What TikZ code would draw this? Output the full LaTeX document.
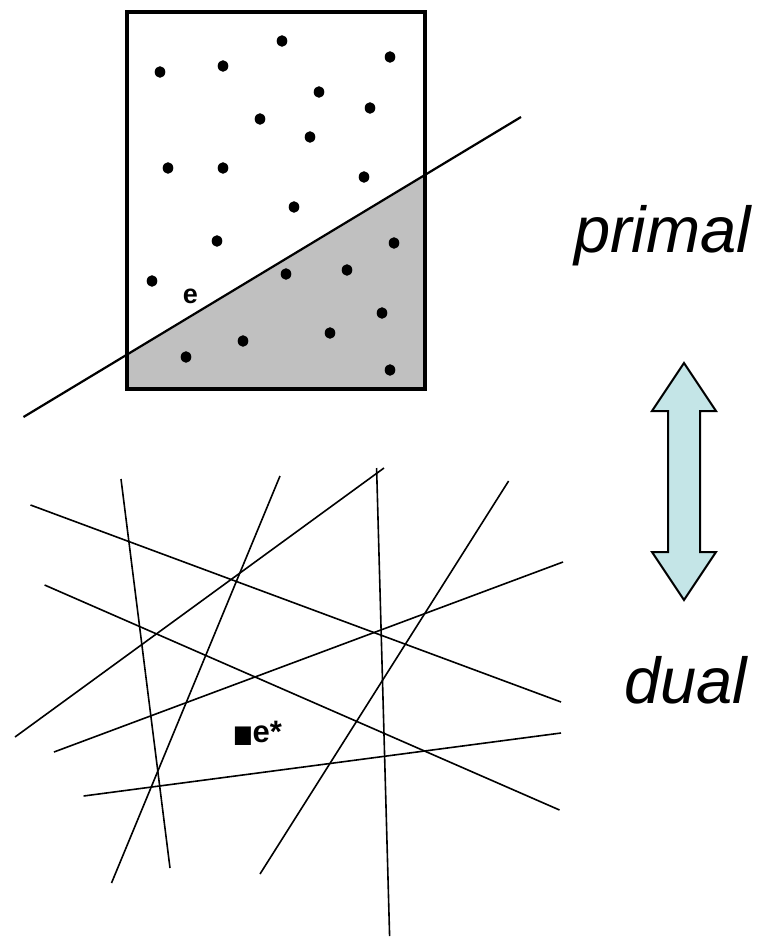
\documentclass[tikz,border=0pt]{standalone}
\usepackage{fontspec}
\setmainfont{Liberation Sans}
\newfontfamily\dejavu{DejaVu Sans}
\definecolor{arrowfill}{RGB}{196,229,231}
\definecolor{halfplanegray}{RGB}{192,192,192}
\tikzset{
  dotpt/.style={fill=black, draw=none},
  dualline/.style={line width=1.6pt, black},
  lbl/.style={inner sep=0pt, outer sep=0pt},
}
\begin{document}
\begin{tikzpicture}[x=1pt, y=-1pt]
\useasboundingbox (0,0) rectangle (756,937);
\fill[white] (0,0) rectangle (756,937);
% primal: shaded half-plane inside box
\coordinate (bl) at (127,388.7);
\coordinate (br) at (425,388.7);
\coordinate (tl) at (127,12.3);
\coordinate (tr) at (425,12.3);
\coordinate (il) at (127,354.6);
\coordinate (ir) at (425,174.9);
\fill[halfplanegray] (il) -- (ir) -- (br) -- (bl) -- cycle;
\draw[line width=4.2pt] (tl) rectangle (br);
\coordinate (ea) at (23.5,417);
\coordinate (eb) at (521,117);
\draw[line width=2.2pt] (ea) -- (eb);
% points
\foreach \px/\py in {282/41, 390/57, 160/72, 223/66, 319/92, 370/108, 260/119, 310/137,
  168/168, 223/168, 364/177, 294/207, 217/241, 394/243, 152/281, 286/274, 347/270,
  382/313, 330/333, 243/341, 186/357, 390/370}
  \fill[dotpt] (\px,\py) ellipse [x radius=5.3, y radius=5.8];
\node[lbl, anchor=base, font=\fontsize{27}{27}\selectfont\bfseries] (elabel) at (190.5,303) {e};
% dual: arrangement of lines
\coordinate (a1) at (30.5,505);  \coordinate (a2) at (561,702);
\coordinate (b1) at (44.6,585);  \coordinate (b2) at (559.5,810);
\coordinate (c1) at (121,479);   \coordinate (c2) at (170,868);
\coordinate (d1) at (111.5,883); \coordinate (d2) at (280,476);
\coordinate (f1) at (15,737);    \coordinate (f2) at (384,468);
\coordinate (g1) at (376.6,468); \coordinate (g2) at (389.6,936);
\coordinate (h1) at (260,874);   \coordinate (h2) at (508.6,481);
\coordinate (k1) at (54,752);    \coordinate (k2) at (563,562);
\coordinate (m1) at (83.6,796);  \coordinate (m2) at (561,733);
\foreach \s in {a,b,c,d,f,g,h,k,m}
  \draw[dualline] (\s1) -- (\s2);
\node[lbl, anchor=base west] (estar) at (233,742)
  {\scalebox{0.95}[1.1]{\dejavu\fontsize{22}{22}\selectfont ■}\hspace{0pt}\fontsize{31}{31}\selectfont\bfseries e*};
% labels
\node[lbl, anchor=base west, font=\fontsize{65}{65}\selectfont\itshape] (primal) at (574,252) {primal};
\node[lbl, anchor=base west, font=\fontsize{65}{65}\selectfont\itshape] (dual) at (624,703) {dual};
% double arrow
\draw[line width=2pt, fill=arrowfill, line join=miter]
  (684,363) -- (716,411) -- (700,411) -- (700,552) -- (716,552) -- (684,600)
  -- (652,552) -- (668,552) -- (668,411) -- (652,411) -- cycle;
\end{tikzpicture}
\end{document}
